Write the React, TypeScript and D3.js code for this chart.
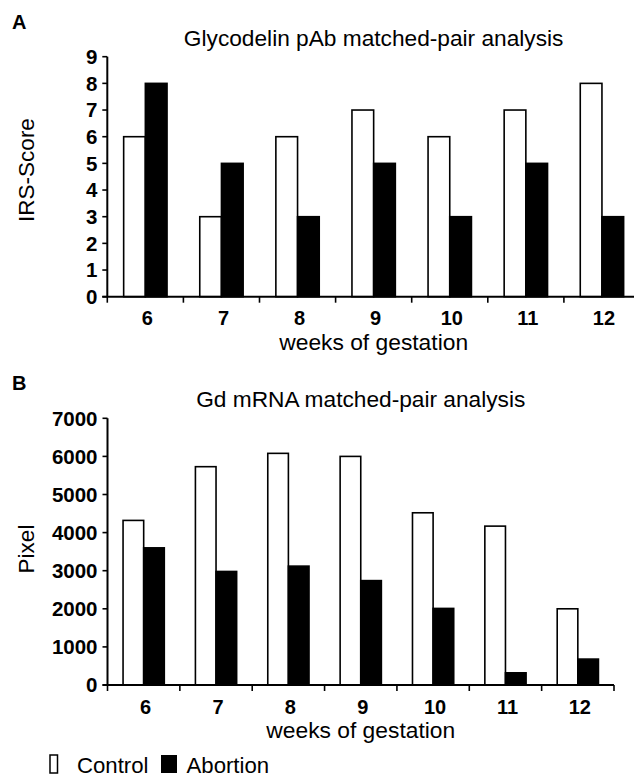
import React from "react";
import * as d3 from "d3";

const weeks = ["6", "7", "8", "9", "10", "11", "12"];
const seriesNames = ["Control", "Abortion"];
const irsControl = [6, 3, 6, 7, 6, 7, 8];
const irsAbortion = [8, 5, 3, 5, 3, 5, 3];
const pixelControl = [4320, 5730, 6080, 6000, 4520, 4170, 2000];
const pixelAbortion = [3600, 2980, 3120, 2740, 2010, 320, 680];
const irsTicks = [0, 1, 2, 3, 4, 5, 6, 7, 8, 9];
const pixelTicks = [0, 1000, 2000, 3000, 4000, 5000, 6000, 7000];
const fills = ["#ffffff", "#000000"];

const FONT = "'Liberation Sans', Arial, Helvetica, sans-serif";

type PanelProps = {
  letter: string;
  letterY: number;
  title: string;
  titleY: number;
  yLabel: string;
  yLabelY: number;
  x0: number;
  x1: number;
  yTop: number;
  yBottom: number;
  domainMax: number;
  ticks: number[];
  a: number[];
  b: number[];
};

function Panel(p: PanelProps) {
  const x = d3.scaleBand<string>().domain(weeks).range([p.x0, p.x1]).paddingInner(0.43).paddingOuter(0.215);
  const inner = d3.scaleBand<string>().domain(seriesNames).range([0, x.bandwidth()]).padding(0);
  const y = d3.scaleLinear().domain([0, p.domainMax]).range([p.yBottom, p.yTop]);
  const step = (p.x1 - p.x0) / weeks.length;
  const boundaries = d3.range(weeks.length + 1).map((i) => p.x0 + i * step);
  const cx = (p.x0 + p.x1) / 2;
  const series = [p.a, p.b];
  return (
    <g>
      <text x={12} y={p.letterY} fontFamily={FONT} fontWeight="bold" fontSize={20}>{p.letter}</text>
      <text x={cx} y={p.titleY} textAnchor="middle" fontFamily={FONT} fontSize={22.7}>{p.title}</text>
      <text transform={`translate(34,${p.yLabelY}) rotate(-90)`} textAnchor="middle" fontFamily={FONT} fontSize={22.5}>{p.yLabel}</text>
      {series.map((vals, si) =>
        weeks.map((w, i) => {
          const bx = (x(w) as number) + (inner(seriesNames[si]) as number);
          return (
            <rect key={`${si}-${w}`} x={bx} y={y(vals[i])} width={inner.bandwidth()} height={y(0) - y(vals[i])}
              fill={fills[si]} stroke="#000" strokeWidth={1.6} />
          );
        })
      )}
      {/* y axis */}
      <line x1={p.x0} x2={p.x0} y1={y(p.domainMax)} y2={y(0)} stroke="#000" strokeWidth={2} />
      {p.ticks.map((t) => (
        <g key={t}>
          <line x1={p.x0 - 5} x2={p.x0} y1={y(t)} y2={y(t)} stroke="#000" strokeWidth={1.6} />
          <text x={p.x0 - 10} y={y(t)} dy="0.36em" textAnchor="end" fontFamily={FONT} fontWeight="bold" fontSize={20.5}>{t}</text>
        </g>
      ))}
      {/* x axis */}
      <line x1={p.x0 - 5} x2={p.x1} y1={y(0)} y2={y(0)} stroke="#000" strokeWidth={2} />
      {boundaries.map((bx, i) => (
        <line key={i} x1={bx} x2={bx} y1={y(0)} y2={y(0) + 6} stroke="#000" strokeWidth={1.6} />
      ))}
      {weeks.map((w) => (
        <text key={w} x={(x(w) as number) + x.bandwidth() / 2 + 2} y={y(0) + 28.5} textAnchor="middle" fontFamily={FONT} fontWeight="bold" fontSize={20}>{w}</text>
      ))}
      <text x={cx} y={y(0) + 53} textAnchor="middle" fontFamily={FONT} fontSize={22.8}>weeks of gestation</text>
    </g>
  );
}

export default function App() {
  return (
    <svg width={626} height={779} style={{ display: "block", margin: "-8px 0 0 -8px", background: "#fff" }} viewBox="0 0 626 779" overflow="visible">
      <rect x={0} y={0} width={642} height={779} fill="#fff" />
      <Panel letter="A" letterY={28.5} title="Glycodelin pAb matched-pair analysis" titleY={46}
        yLabel="IRS-Score" yLabelY={170} x0={107.3} x1={640} yTop={56.7} yBottom={296.7}
        domainMax={9} ticks={irsTicks} a={irsControl} b={irsAbortion} />
      <Panel letter="B" letterY={390} title="Gd mRNA matched-pair analysis" titleY={407}
        yLabel="Pixel" yLabelY={549} x0={107.5} x1={614} yTop={418.3} yBottom={685}
        domainMax={7000} ticks={pixelTicks} a={pixelControl} b={pixelAbortion} />
      <g fontFamily={FONT} fontSize={22.2}>
        <rect x={50} y={755} width={7.5} height={18} fill="#fff" stroke="#000" strokeWidth={1.5} />
        <text x={77} y={773}>{seriesNames[0]}</text>
        <rect x={161} y={755} width={16} height={18} fill="#000" />
        <text x={186.5} y={773}>{seriesNames[1]}</text>
      </g>
    </svg>
  );
}
